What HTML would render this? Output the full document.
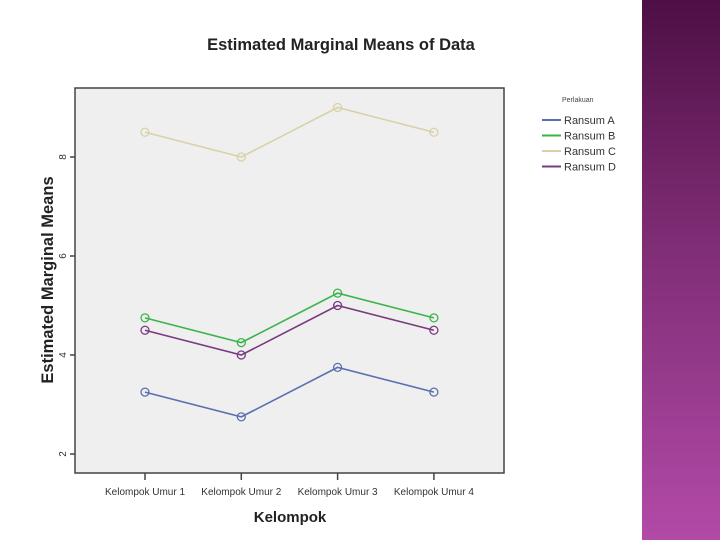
<!DOCTYPE html>
<html><head><meta charset="utf-8"><style>
body{margin:0;width:720px;height:540px;overflow:hidden;background:#fff;font-family:"Liberation Sans",sans-serif;position:relative}
#deco{position:absolute;left:642px;top:0;width:78px;height:540px;background:linear-gradient(#4e0f45,#7a2a70 40%,#b24aa8)}
</style></head><body>
<div id="deco"></div>
<svg id="chart" width="720" height="540" style="position:absolute;left:0;top:0"></svg>
<script>
const categories=["Kelompok Umur 1","Kelompok Umur 2","Kelompok Umur 3","Kelompok Umur 4"];
const seriesNames=["Ransum A","Ransum B","Ransum C","Ransum D"];
const seriesA=[3.25,2.75,3.75,3.25];
const seriesB=[4.75,4.25,5.25,4.75];
const seriesC=[8.5,8,9,8.5];
const seriesD=[4.5,4,5,4.5];
const yTicks=[2,4,6,8];
const colors=["#5a6fb0","#3cb34a","#d9d2a8","#7a3a80"];
const NS="http://www.w3.org/2000/svg";
const svg=document.getElementById('chart');
const L=75,R=504,T=88,B=473;
const xPos=i=>145+i*96.3;
const yPos=v=>454-(v-2)*49.5;
function mk(t,a,p){const e=document.createElementNS(NS,t);for(const k in a)e.setAttribute(k,a[k]);(p||svg).appendChild(e);return e;}
let e;
e=mk('rect',{x:L,y:T,width:R-L,height:B-T,fill:'#efefef',stroke:'#444','stroke-width':1.5});


e=mk('text',{x:341,y:50,'text-anchor':'middle','font-size':16.5,'font-weight':'bold',fill:'#222'});e.textContent="Estimated Marginal Means of Data";


yTicks.forEach(v=>{const y=yPos(v);
mk('line',{x1:L-5,x2:L,y1:y,y2:y,stroke:'#444','stroke-width':1.5});
e=mk('text',{x:0,y:0,transform:`translate(${L-9},${y}) rotate(-90)`,'text-anchor':'middle','font-size':10,fill:'#333'});e.textContent=v;

});
categories.forEach((c,i)=>{const x=xPos(i);
mk('line',{x1:x,x2:x,y1:B,y2:B+7,stroke:'#444','stroke-width':1.5});
e=mk('text',{x:x,y:B+22,'text-anchor':'middle','font-size':10,fill:'#333'});e.textContent=c;

});
e=mk('text',{x:290,y:522,'text-anchor':'middle','font-size':15,'font-weight':'bold',fill:'#222'});e.textContent="Kelompok";


e=mk('text',{x:0,y:0,transform:'translate(53,280) rotate(-90)','text-anchor':'middle','font-size':16.5,'font-weight':'bold',fill:'#222'});e.textContent="Estimated Marginal Means";


[seriesA,seriesB,seriesC,seriesD].forEach((s,k)=>{
const g=mk('g',{});


mk('polyline',{points:s.map((v,i)=>xPos(i)+','+yPos(v)).join(' '),fill:'none',stroke:colors[k],'stroke-width':1.6},g);
s.forEach((v,i)=>{const c=mk('circle',{cx:xPos(i),cy:yPos(v),r:4,fill:'none',stroke:colors[k],'stroke-width':1.3},g);

});
});
e=mk('text',{x:562,y:102,'font-size':7,fill:'#444'});e.textContent="Perlakuan";


seriesNames.forEach((n,k)=>{const y=120+k*15.5;
const g=mk('g',{});


mk('line',{x1:542,x2:561,y1:y,y2:y,stroke:colors[k],'stroke-width':2},g);
const t=mk('text',{x:564,y:y+4,'font-size':11,fill:'#333'},g);t.textContent=n;});
</script>
</body></html>
